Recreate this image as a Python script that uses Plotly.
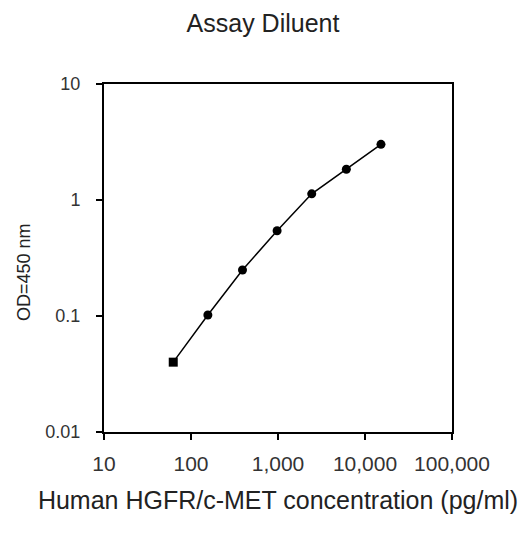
import plotly.graph_objects as go

# Data
concentration = [62.5, 156.25, 390.6, 976.6, 2441, 6104, 15259]   # pg/ml
od_450 = [0.040, 0.102, 0.249, 0.543, 1.13, 1.84, 3.02]

x_tickvals = [10, 100, 1000, 10000, 100000]
x_ticktext = ["10", "100", "1,000", "10,000", "100,000"]
y_tickvals = [0.01, 0.1, 1, 10]
y_ticktext = ["0.01", "0.1", "1", "10"]

title_text = "Assay Diluent"
x_title = "Human HGFR/c-MET concentration (pg/ml)"
y_title = "OD=450 nm"

font_family = "Liberation Sans, Arial, sans-serif"

fig = go.Figure()
fig.add_trace(go.Scatter(
    x=concentration, y=od_450, mode="lines+markers",
    line=dict(color="black", width=1.5),
    marker=dict(color="black", size=9,
                symbol=["square"] + ["circle"] * (len(concentration) - 1)),
    showlegend=False, hoverinfo="skip",
))

fig.update_layout(
    width=531, height=533,
    margin=dict(l=104, r=79, t=84, b=101),
    paper_bgcolor="white", plot_bgcolor="white",
    font=dict(family=font_family, color="#222222"),
    title=dict(text=title_text, xref="container", x=263 / 531, xanchor="center",
               yref="container", y=1 - 23 / 533, yanchor="middle",
               font=dict(size=25, color="#222222")),
    xaxis=dict(
        type="log", range=[1, 5],
        tickvals=x_tickvals, ticktext=x_ticktext, tickangle=0,
        showgrid=False, zeroline=False,
        showline=True, linecolor="black", linewidth=2, mirror=True,
        ticks="outside", ticklen=6, tickwidth=2, tickcolor="black",
        tickfont=dict(size=21, color="#333333"), ticklabelstandoff=6,
        title=dict(text=x_title, font=dict(size=25, color="#222222"), standoff=17),
    ),
    yaxis=dict(
        type="log", range=[-2, 1],
        tickvals=y_tickvals, ticktext=y_ticktext,
        showgrid=False, zeroline=False,
        showline=True, linecolor="black", linewidth=2, mirror=True,
        ticks="outside", ticklen=6, tickwidth=2, tickcolor="black",
        tickfont=dict(size=18, color="#333333"), ticklabelstandoff=12,
    ),
    annotations=[dict(
        text=y_title, textangle=-90, showarrow=False,
        xref="paper", yref="paper",
        x=(24 - 104) / 348, y=(432 - 272) / 348,
        xanchor="center", yanchor="middle",
        font=dict(size=18, color="#222222"),
    )],
)

fig.write_html("out.html", config={"displayModeBar": False},
               post_script="document.body.style.margin='0px';")
